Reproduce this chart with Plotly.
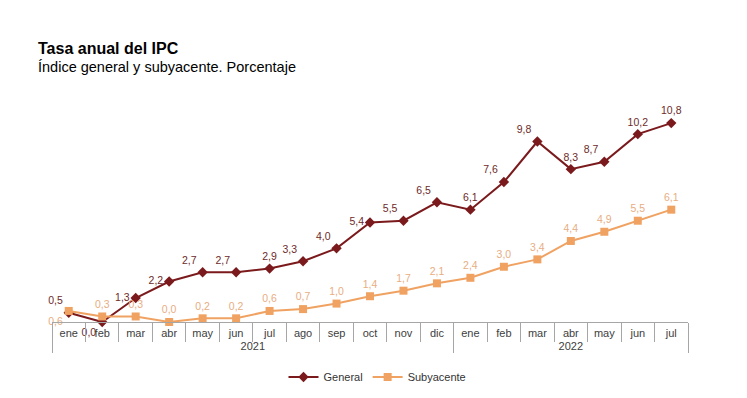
import plotly.graph_objects as go

# ---- data ----
years = ["2021"] * 12 + ["2022"] * 7
months = ["ene", "feb", "mar", "abr", "may", "jun", "jul", "ago", "sep", "oct", "nov", "dic",
          "ene", "feb", "mar", "abr", "may", "jun", "jul"]
general = [0.5, 0.0, 1.3, 2.2, 2.7, 2.7, 2.9, 3.3, 4.0, 5.4, 5.5, 6.5,
           6.1, 7.6, 9.8, 8.3, 8.7, 10.2, 10.8]
subyacente = [0.6, 0.3, 0.3, 0.0, 0.2, 0.2, 0.6, 0.7, 1.0, 1.4, 1.7, 2.1,
              2.4, 3.0, 3.4, 4.4, 4.9, 5.5, 6.1]

# ---- label placement (style) ----
gen_pos = ["top left", "bottom left", "middle left", "middle left", "top left", "top left",
           "top center", "top left", "top left", "middle left", "top left", "top left",
           "top center", "top left", "top left", "top center", "top left", "top center", "top center"]
sub_pos = ["bottom left"] + ["top center"] * 18


def fmt(v):
    return f"{v:.1f}".replace(".", ",")


FONT = "Liberation Sans, Arial, sans-serif"
C_GEN = "#7B1A1C"
C_SUB = "#F0A262"

# page body has an 8px margin, so the figure is sized to fit the window
W, H = 739, 390
L, R, T, B = 44, 59, 93, 76
PW, PH = W - L - R, H - T - B


def px_x(x):
    return (x - L) / PW


def px_y(y):
    return (H - B - y) / PH


fig = go.Figure()
fig.add_trace(go.Scatter(
    x=[years, months], y=general, name="General",
    mode="lines+markers+text",
    line=dict(color=C_GEN, width=2),
    marker=dict(symbol="diamond", size=8, color=C_GEN),
    text=[fmt(v) for v in general], textposition=gen_pos,
    textfont=dict(family=FONT, size=10.5, color="#6E2A2A"),
    cliponaxis=False,
))
fig.add_trace(go.Scatter(
    x=[years, months], y=subyacente, name="Subyacente",
    mode="lines+markers+text",
    line=dict(color=C_SUB, width=2),
    marker=dict(symbol="square", size=8, color=C_SUB),
    text=[fmt(v) for v in subyacente], textposition=sub_pos,
    textfont=dict(family=FONT, size=10.5, color="#E8AD82"),
    cliponaxis=False,
))

fig.update_layout(
    width=W, height=H,
    paper_bgcolor="white", plot_bgcolor="white",
    margin=dict(l=L, r=R, t=T, b=B, autoexpand=False),
    font=dict(family=FONT, size=11, color="#404040"),
    showlegend=True,
    legend=dict(orientation="h", x=0.5, xref="container", xanchor="center",
                y=21 / H, yref="container", yanchor="middle",
                font=dict(family=FONT, size=11, color="#333333")),
    xaxis=dict(
        type="multicategory", automargin=False, range=[-0.5, 18.5],
        showline=True, linecolor="#A6A6A6", linewidth=1,
        ticks="outside", tickson="boundaries", ticklen=19, tickcolor="#A6A6A6",
        ticklabelstandoff=1,
        showdividers=True, dividercolor="#A6A6A6", dividerwidth=1,
        showgrid=False, zeroline=False,
        tickfont=dict(family=FONT, size=11, color="#404040"),
    ),
    yaxis=dict(range=[0, 12], visible=False, automargin=False),
    annotations=[
        dict(text="<b>Tasa anual del IPC</b>", xref="paper", yref="paper",
             x=px_x(28), y=px_y(41), xanchor="left", yanchor="middle", showarrow=False,
             font=dict(family=FONT, size=16, color="black")),
        dict(text="Índice general y subyacente. Porcentaje", xref="paper", yref="paper",
             x=px_x(28), y=px_y(59), xanchor="left", yanchor="middle", showarrow=False,
             font=dict(family=FONT, size=14.5, color="black")),
    ],
)

fig.write_html("out.html")
